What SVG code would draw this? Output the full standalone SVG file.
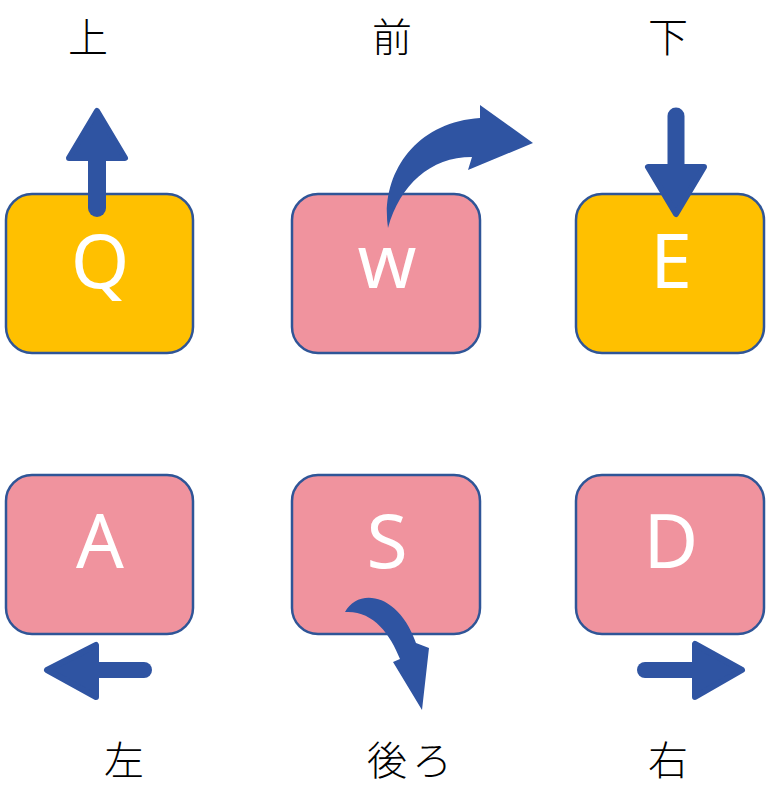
<svg xmlns="http://www.w3.org/2000/svg" width="771" height="803" viewBox="0 0 771 803">
<style>
.box{stroke:#2F5597;stroke-width:2.5}
.y{fill:#FFC000}
.p{fill:#F0939E}
.key{font-family:"Noto Sans","DejaVu Sans",sans-serif;font-size:75px;font-weight:400;fill:#fff;text-anchor:middle}
.lbl{font-family:"Noto Sans CJK JP","Noto Sans CJK SC",sans-serif;font-size:40px;font-weight:300;fill:#000;text-anchor:middle}
.shaft{stroke:#2F54A2;fill:none;stroke-linecap:round}
.head{fill:#2F54A2;stroke:#2F54A2;stroke-width:6;stroke-linejoin:round}
.curve{fill:#2F54A2;stroke:none}
</style>
<rect width="771" height="803" fill="#fff"/>
<g id="labels">
<text class="lbl" x="88" y="52">上</text>
<text class="lbl" x="392" y="52">前</text>
<text class="lbl" x="668" y="52">下</text>
<text class="lbl" x="124" y="775">左</text>
<text class="lbl" x="412" y="775" letter-spacing="5">後ろ</text>
<text class="lbl" x="668" y="775">右</text>
</g>
<g id="node-q"><rect class="box y" x="6" y="194" width="187" height="159" rx="26"/><text class="key" x="100" y="288">Q</text></g>
<g id="node-w"><rect class="box p" x="292" y="194" width="188" height="159" rx="26"/><text class="key" x="387" y="288">w</text></g>
<g id="node-e"><rect class="box y" x="576" y="194" width="188" height="159" rx="26"/><text class="key" x="671" y="288">E</text></g>
<g id="node-a"><rect class="box p" x="6" y="475" width="187" height="159" rx="26"/><text class="key" x="100" y="568">A</text></g>
<g id="node-s"><rect class="box p" x="292" y="475" width="188" height="159" rx="26"/><text class="key" x="387" y="568">S</text></g>
<g id="node-d"><rect class="box p" x="576" y="475" width="188" height="159" rx="26"/><text class="key" x="671" y="568">D</text></g>
<g id="connectors">
<g id="arrow-up"><line class="shaft" x1="97" y1="208" x2="97" y2="150" stroke-width="18"/><polygon class="head" points="97,111 125,158 69,158"/></g>
<g id="arrow-down"><line class="shaft" x1="676" y1="116" x2="676" y2="170" stroke-width="17"/><polygon class="head" points="676,214 648,167 704,167"/></g>
<g id="arrow-left"><line class="shaft" x1="144" y1="670" x2="92" y2="670" stroke-width="16"/><polygon class="head" points="47,670 96,645 96,697"/></g>
<g id="arrow-right"><line class="shaft" x1="645" y1="670" x2="697" y2="670" stroke-width="16"/><polygon class="head" points="742,670 695,644 695,697"/></g>
<path id="arrow-forward" class="curve" d="M388,228 C380,175 415,122 480,118 L480,105 L533,143 L468,170 L472,157 C430,157 400,185 388,228 Z"/>
<path id="arrow-back" class="curve" d="M345,612 C358,588 398,592 416,643 L429,648 L422,710 L393,662 L400,659 C390,633 372,610 345,612 Z"/>
</g>
</svg>
